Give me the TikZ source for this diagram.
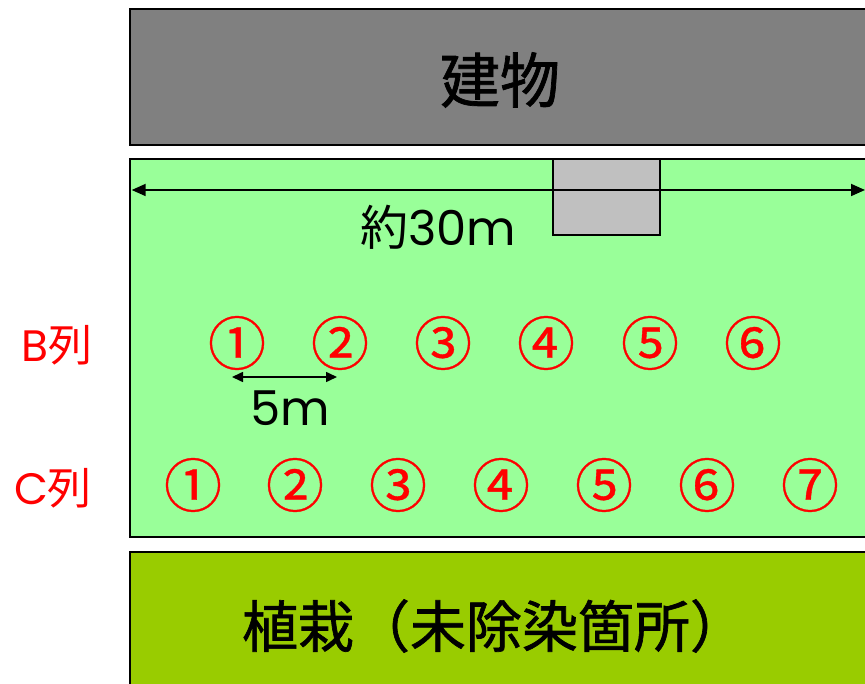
\documentclass[tikz,border=0pt]{standalone}
\usepackage{fontspec}
\setmainfont{Noto Sans CJK JP}
\newfontfamily\cjkb[FakeBold=1.2]{Noto Sans CJK JP}
\newfontfamily\cjkc[FakeBold=0.6]{Noto Sans CJK JP}
\newfontfamily\latinf{Poppins}
\usetikzlibrary{arrows.meta}
\definecolor{bldg}{HTML}{808080}
\definecolor{lawn}{HTML}{99FF99}
\definecolor{plant}{HTML}{99CC00}
\definecolor{boxg}{HTML}{C0C0C0}
\tikzset{
  area/.style={draw=black, line width=1.6pt},
  big/.style={font=\cjkb\fontsize{60}{66}\selectfont},
  bigb/.style={font=\cjkb\fontsize{56}{62}\selectfont},
  mid/.style={font=\fontsize{48}{54}\selectfont},
  pt/.style={text=red, font=\cjkc\fontsize{58}{62}\selectfont, inner sep=0pt},
  rowlab/.style={text=red, font=\fontsize{44}{50}\selectfont, inner sep=0pt},
  dim/.style={line width=1.8pt, {Triangle[length=14pt,width=12pt]}-{Triangle[length=14pt,width=12pt]}},
  sdim/.style={line width=1.6pt, {Triangle[length=11pt,width=10pt]}-{Triangle[length=11pt,width=10pt]}}
}
\begin{document}
\begin{tikzpicture}[x=1pt,y=-1pt]
\useasboundingbox (0,0) rectangle (865,684);
\begin{scope}
\clip (0,0) rectangle (865,684);
\draw[area, fill=bldg] (130,9) rectangle (880,145);
\draw[area, fill=lawn] (130,159) rectangle (880,537);
\draw[area, fill=plant] (130,552) rectangle (880,700);
\end{scope}
\node[big] (bldgtxt) at (500,80) {建物};
\node[bigb] (planttxt) at (494,626) {植栽（未除染箇所）};
\draw[line width=1.4pt, fill=boxg] (553,159) rectangle (660,235);
\node[inner sep=0pt] (wl) at (131,190) {};
\coordinate (wr) at (865,190);
\draw[dim] (wl) -- (wr);
\node[mid] (w30) at (438,227) {約{\latinf 30m}};
\node[rowlab] (blab) at (57,345) {{\latinf B}列};
\node[rowlab] (clab) at (53,488) {{\latinf C}列};
\foreach \i/\x/\c in {1/237/①,2/340/②,3/443/③,4/546/④,5/650/⑤,6/753/⑥}
  \node[pt] (b\i) at (\x,343) {\c};
\foreach \i/\x/\c in {1/193/①,2/295/②,3/398/③,4/501/④,5/604/⑤,6/707/⑥,7/810/⑦}
  \node[pt] (c\i) at (\x,485) {\c};
\coordinate (sl) at (232,377);
\coordinate (sr) at (337,377);
\draw[sdim] (sl) -- (sr);
\node[mid] (s5) at (290,408) {\latinf 5m};
\end{tikzpicture}
\end{document}
